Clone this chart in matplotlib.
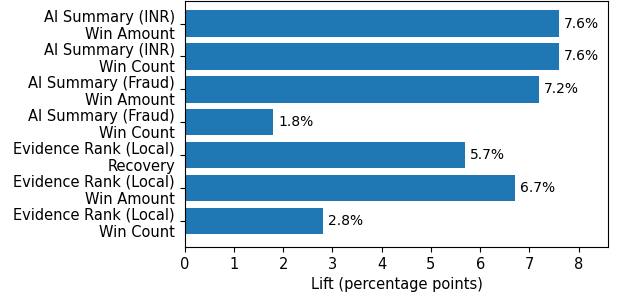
import numpy as np
import matplotlib
matplotlib.use("Agg")
import matplotlib.pyplot as plt

# Data
labels = [
    "AI Summary (INR)\nWin Amount",
    "AI Summary (INR)\nWin Count",
    "AI Summary (Fraud)\nWin Amount",
    "AI Summary (Fraud)\nWin Count",
    "Evidence Rank (Local)\nRecovery",
    "Evidence Rank (Local)\nWin Amount",
    "Evidence Rank (Local)\nWin Count",
]
lifts = [7.6, 7.6, 7.2, 1.8, 5.7, 6.7, 2.8]

fig, ax = plt.subplots(figsize=(6.18, 2.99), dpi=100)
y = np.arange(len(labels))
bars = ax.barh(y, lifts, color="#1f77b4")
ax.set_yticks(y)
ax.set_yticklabels(labels, fontsize=10.5)
ax.tick_params(axis="x", labelsize=10.5)
ax.set_ylim(len(labels) - 1 + 0.79, -0.69)

for b, v in zip(bars, lifts):
    ax.text(b.get_width() + 0.1, b.get_y() + b.get_height() / 2, f"{v:.1f}%",
            va="center", ha="left", fontsize=10)

ax.set_xlim(0, 8.6)
ax.set_xlabel("Lift (percentage points)", fontsize=10.5)

fig.subplots_adjust(left=0.299, right=0.984, top=0.997, bottom=0.174)
fig.savefig("out.png", dpi=100)
